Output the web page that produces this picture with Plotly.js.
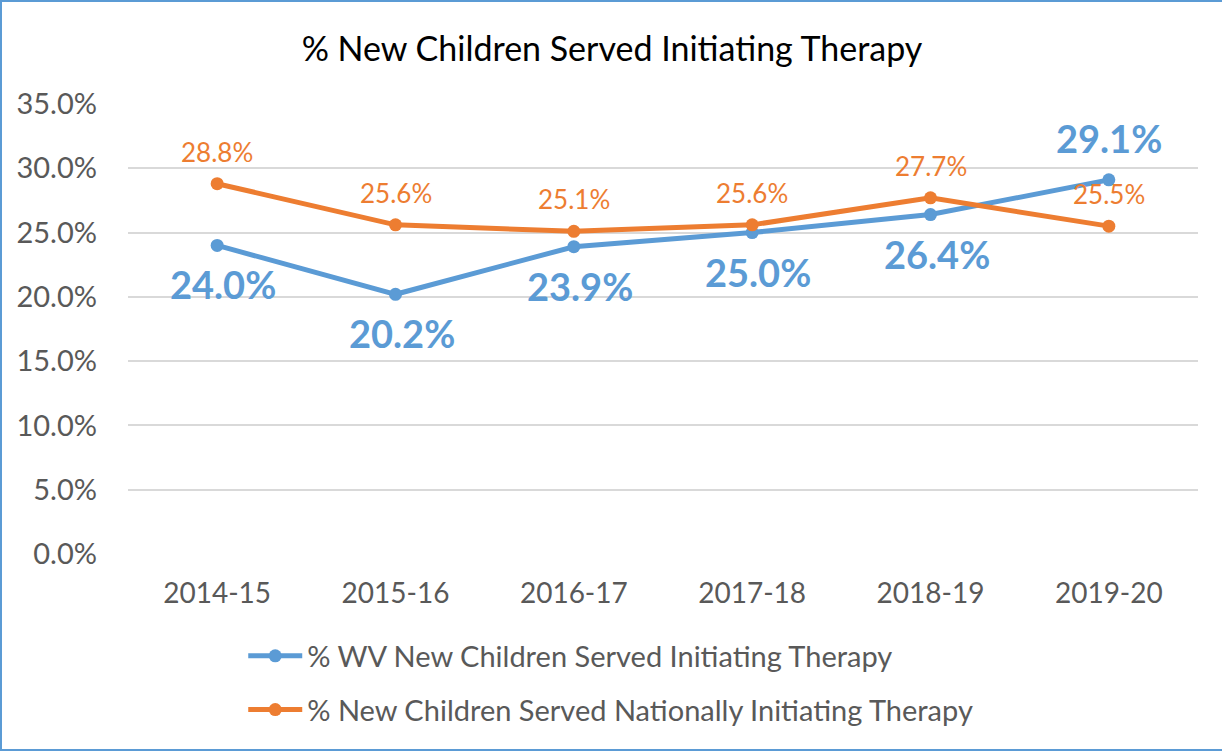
<!DOCTYPE html>
<html>
<head>
<meta charset="utf-8">
<script src="https://cdn.plot.ly/plotly-3.0.1.min.js"></script>
<style>
  body { margin: 0; background: #fff; }
  #frame {
    width: 1222px; height: 751px; box-sizing: border-box;
    border-left: 2px solid #5B9BD5; border-top: 2px solid #5B9BD5; border-bottom: 2px solid #5B9BD5;
  }
  #chart { width: 1220px; height: 747px; }
</style>
</head>
<body>
<div id="frame"><div id="chart"></div></div>
<script>
const years = ['2014-15', '2015-16', '2016-17', '2017-18', '2018-19', '2019-20'];
const wvValues = [24.0, 20.2, 23.9, 25.0, 26.4, 29.1];
const nationalValues = [28.8, 25.6, 25.1, 25.6, 27.7, 25.5];
const wvLabelAbove = [false, false, false, false, false, true];
const yTicks = [0, 5, 10, 15, 20, 25, 30, 35];

const blue = '#5B9BD5';
const orange = '#ED7D31';
const font = 'Lato, sans-serif';

const fmt = v => v.toFixed(1) + '%';

const traces = [
    {
        x: years, y: wvValues,
        mode: 'lines+markers', type: 'scatter',
        name: '% WV New Children Served Initiating Therapy',
        line: { color: blue, width: 5 },
        marker: { color: blue, size: 13 },
        legendgroup: 'a'
    },
    {
        x: years, y: nationalValues,
        mode: 'lines+markers', type: 'scatter',
        name: '% New Children Served Nationally Initiating Therapy',
        line: { color: orange, width: 5 },
        marker: { color: orange, size: 13 },
        legendgroup: 'b'
    }
];

// data labels, Excel style
const wvLabels = years.map((yr, i) => ({
    x: yr, y: wvValues[i], xref: 'x', yref: 'y',
    text: fmt(wvValues[i]),
    showarrow: false,
    yshift: wvLabelAbove[i] ? 42 : -39,
    xshift: wvLabelAbove[i] ? 0 : 6,
    font: { family: font, size: 38, color: blue, weight: 'bold' }
}));
const nationalLabels = years.map((yr, i) => ({
    x: yr, y: nationalValues[i], xref: 'x', yref: 'y',
    text: fmt(nationalValues[i]),
    showarrow: false,
    yshift: 32,
    font: { family: font, size: 26, color: orange }
}));

const layout = {
    width: 1220, height: 747,
    margin: { l: 126, r: 24, t: 102, b: 195 },
    title: {
        text: '% New Children Served Initiating Therapy',
        font: { family: font, size: 34, color: '#000000' },
        x: 0.5, xanchor: 'center', y: 0.937, yanchor: 'middle'
    },
    xaxis: {
        type: 'category',
        range: [-0.5, 5.5],
        showgrid: false, zeroline: false, showline: false,
        ticks: '',
        ticklabelstandoff: 20,
        tickfont: { family: font, size: 28, color: '#595959' }
    },
    yaxis: {
        range: [0, 35],
        tickvals: yTicks,
        ticktext: yTicks.map(fmt),
        gridcolor: '#D9D9D9', gridwidth: 2,
        zeroline: false, showline: false,
        ticks: '',
        ticklabelstandoff: 30,
        tickfont: { family: font, size: 29, color: '#595959' }
    },
    annotations: [...wvLabels, ...nationalLabels],
    showlegend: true,
    legend: {
        orientation: 'v',
        x: 0.1077, xanchor: 'left',
        y: -0.17, yanchor: 'top',
        traceorder: 'grouped',
        tracegroupgap: 13,
        itemwidth: 54,
        font: { family: font, size: 29, color: '#595959' },
        bgcolor: 'rgba(0,0,0,0)'
    },
    paper_bgcolor: '#ffffff',
    plot_bgcolor: '#ffffff'
};

Plotly.newPlot('chart', traces, layout, { displayModeBar: false, staticPlot: true });
</script>
</body>
</html>
